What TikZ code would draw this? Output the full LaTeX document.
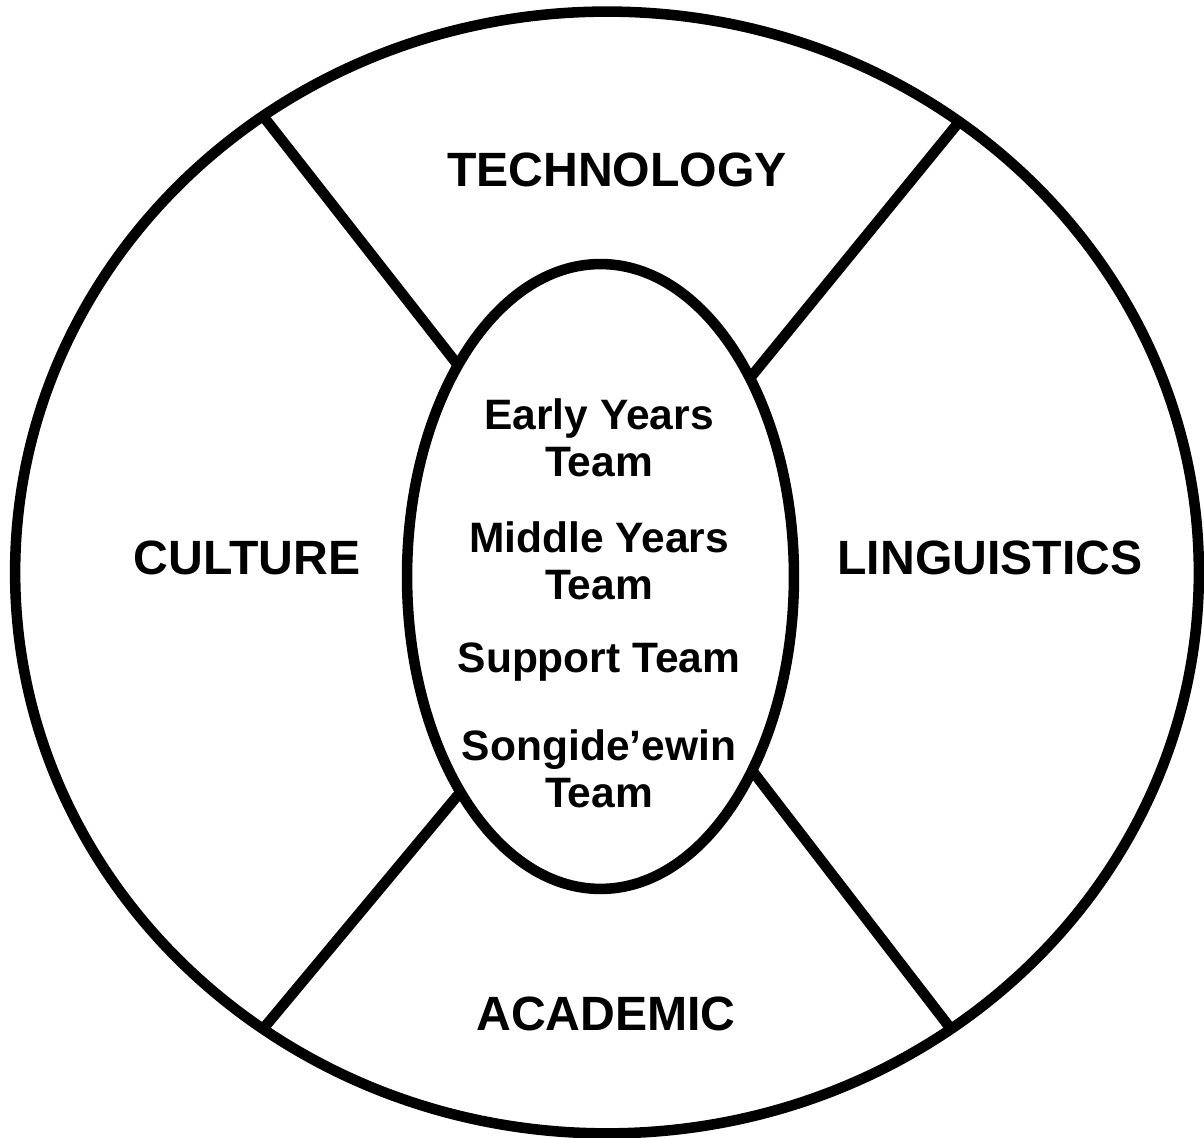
\documentclass[tikz,border=0pt]{standalone}
\usepackage{fontspec}
\setmainfont{Liberation Sans}
\usetikzlibrary{shapes.geometric, positioning}

\begin{document}
\begin{tikzpicture}[x=0.02cm, y=0.02cm,
    rim/.style={draw=black, line width=6pt},
    oval/.style={rim, ellipse, inner sep=0pt, outer sep=0pt},
    area/.style={font=\fontsize{27.4}{33}\selectfont\bfseries, anchor=base},
    team/.style={font=\fontsize{24.2}{27.3}\selectfont\bfseries, align=center, anchor=base}]
    \useasboundingbox (0,0) rectangle (1204,1138);
    % outer ring and inner core
    \node[oval, minimum width=23.68cm, minimum height=22.44cm] (ring) at (607,565.5) {};
    \node[oval, minimum width=7.74cm, minimum height=12.5cm] (core) at (600.5,561.5) {};
    \foreach \a/\b in {127/124, 52/53, 233/237, 307/308} {
        \draw[rim] (ring.\a) -- (core.\b);
    }
    % four areas
    \node[area] (tech) at (617,951) {TECHNOLOGY};
    \node[area] (cult) at (247,563) {CULTURE};
    \node[area] (ling) at (990,563) {LINGUISTICS};
    \node[area] (acad) at (606,107) {ACADEMIC};
    % teams (base is the last line)
    \node[team] (early) at (599,661) {Early Years\\Team};
    \node[team] (middle) at (599,538) {Middle Years\\Team};
    \node[team] (support) at (599,465) {Support Team};
    \node[team] (songide) at (599,330) {Songide’ewin\\Team};
\end{tikzpicture}
\end{document}
